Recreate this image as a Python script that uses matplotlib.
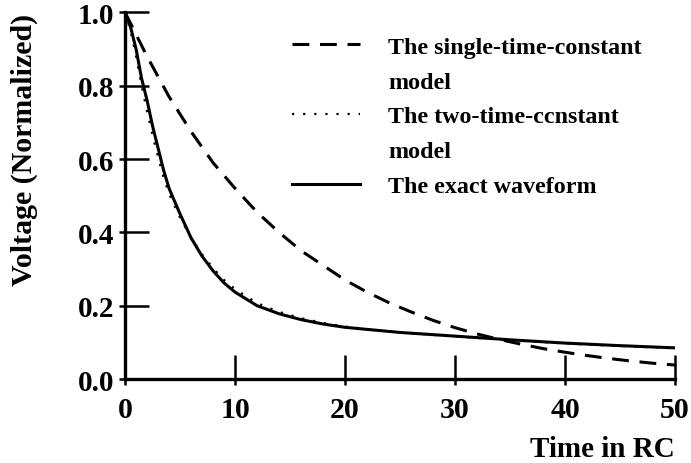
import matplotlib
matplotlib.use("Agg")
import matplotlib.pyplot as plt
from matplotlib.lines import Line2D
from matplotlib.ticker import FixedLocator

# Data
t_single = [0, 2, 4, 6, 8, 10, 12, 14, 16, 18, 20, 22, 24, 26, 28, 30, 32, 34, 36, 38, 40, 42, 44, 46, 48, 50]
v_single = [1.0, 0.88, 0.77, 0.675, 0.59, 0.52, 0.455, 0.40, 0.35, 0.31, 0.27, 0.237, 0.208, 0.183, 0.16,
            0.14, 0.123, 0.108, 0.095, 0.083, 0.073, 0.064, 0.056, 0.049, 0.043, 0.038]

t_exact = [0, 0.5, 1, 1.5, 2, 2.5, 3, 3.5, 4, 5, 6, 7, 8, 9, 10, 12, 14, 16, 18, 20, 25, 30, 35, 40, 45, 50]
v_exact = [1.0, 0.96, 0.9, 0.82, 0.76, 0.69, 0.63, 0.57, 0.52, 0.45, 0.385, 0.335, 0.295, 0.262, 0.237,
           0.2, 0.178, 0.162, 0.15, 0.141, 0.127, 0.117, 0.107, 0.098, 0.091, 0.085]

t_two = [0, 0.5, 1, 1.5, 2, 2.5, 3, 3.5, 4, 5, 6, 7, 8, 9, 10, 12, 14, 16, 18, 20, 25, 30, 35, 40, 45, 50]
v_two = [1.0, 0.95, 0.88, 0.80, 0.73, 0.665, 0.605, 0.55, 0.505, 0.44, 0.385, 0.34, 0.302, 0.27, 0.245,
         0.207, 0.183, 0.166, 0.153, 0.143, 0.127, 0.116, 0.106, 0.097, 0.09, 0.084]

x_ticks = [0, 10, 20, 30, 40, 50]
y_ticks = [0.0, 0.2, 0.4, 0.6, 0.8, 1.0]
y_tick_labels = ["0.0", "0.2", "0.4", "0.6", "0.8", "1.0"]

legend_labels = ["The single-time-constant", "model", "The two-time-ccnstant", "model", "The exact waveform"]

plt.rcParams['font.family'] = ['Liberation Serif', 'DejaVu Serif']
plt.rcParams['font.weight'] = 'bold'

fig = plt.figure(figsize=(6.91, 4.64), dpi=100)
ax = fig.add_axes([0.181, 0.181, 0.796, 0.790])

ax.plot(t_single, v_single, color='black', lw=2.2, linestyle=(0, (5.5, 3.5)), solid_capstyle='butt')
ax.plot(t_two, v_two, color='black', lw=1.6, linestyle=(0, (1, 4)))
ax.plot(t_exact, v_exact, color='black', lw=2.2)

ax.set_xlim(0, 50)
ax.set_ylim(0, 1.0)
for s in ['top', 'right']:
    ax.spines[s].set_visible(False)
for s in ['left', 'bottom']:
    ax.spines[s].set_linewidth(2.4)

ax.set_xticks(x_ticks)
ax.set_yticks(y_ticks)
ax.set_yticklabels(y_tick_labels)
ax.tick_params(axis='both', which='major', direction='in', length=17, width=1.8)
ax.tick_params(axis='x', which='major', pad=12, labelsize=21.5)
ax.tick_params(axis='y', which='major', pad=8, labelsize=21)
ax.xaxis.set_minor_locator(FixedLocator(x_ticks))
ax.yaxis.set_minor_locator(FixedLocator(y_ticks))
ax.xaxis.remove_overlapping_locs = False
ax.yaxis.remove_overlapping_locs = False
ax.tick_params(axis='both', which='minor', direction='out', length=4, width=1.8)

ax.set_ylabel("Voltage (Normalized)", fontsize=21.5, fontweight='bold')
ax.yaxis.set_label_coords(-0.158, 0.628)
ax.set_xlabel("Time in RC", fontsize=21, fontweight='bold', loc='right', labelpad=9)

blank = Line2D([], [], color='none')
handles = [
    Line2D([], [], color='black', lw=2.2, linestyle=(0, (5.5, 3.5))),
    blank,
    Line2D([], [], color='black', lw=1.6, linestyle=(0, (1, 4))),
    blank,
    Line2D([], [], color='black', lw=2.2),
]
leg = ax.legend(handles, legend_labels, loc='upper left', bbox_to_anchor=(292 / 691, 1 - 37 / 464),
                bbox_transform=fig.transFigure, frameon=False,
                prop={'size': 17.3, 'weight': 'bold'},
                handlelength=2.85, handletextpad=1.15, labelspacing=0.54, borderpad=0, borderaxespad=0)

fig.savefig("out.png", dpi=100)
